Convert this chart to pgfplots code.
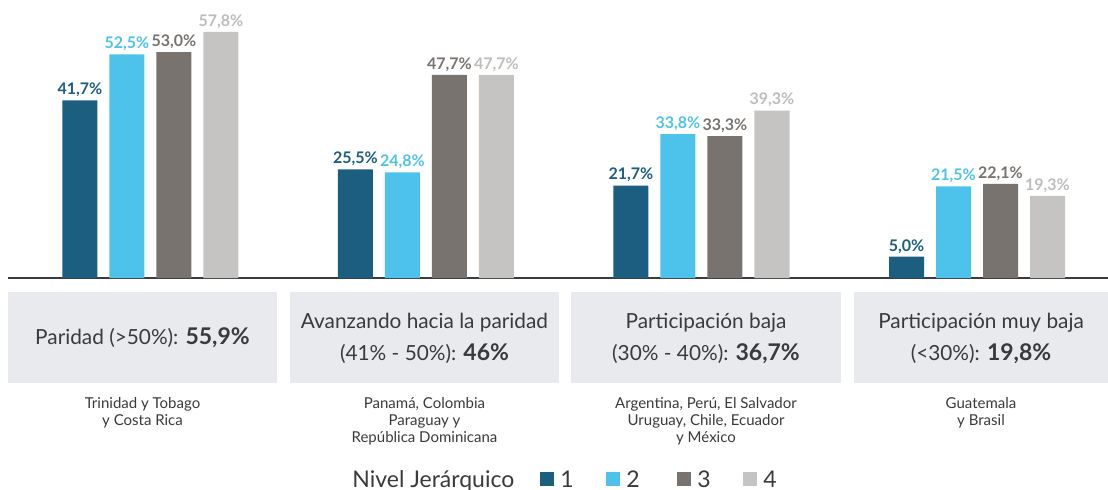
\documentclass[border=0pt]{standalone}
\usepackage{pgfplots}
\pgfplotsset{compat=1.18}
\usepackage{fontspec}
\setmainfont{Lato}
\definecolor{nivA}{HTML}{1B5E7F}
\definecolor{nivB}{HTML}{4DC3EB}
\definecolor{nivC}{HTML}{78736F}
\definecolor{nivD}{HTML}{C5C4C2}
\definecolor{boxgray}{HTML}{E8EAEE}
\definecolor{txtgray}{HTML}{3A3A3A}
\definecolor{axisgray}{HTML}{3C3C3C}
\begin{document}
\begin{tikzpicture}
\begin{axis}[
    scale only axis, width=550pt, height=127.8pt,
    xmin=-0.5172, xmax=3.4755, ymin=0, ymax=60,
    axis x line=bottom, axis y line=none,
    x axis line style={-, color=axisgray, line width=0.75pt},
    xtick=\empty, ytick=\empty,
    ybar, bar width=17.5pt, clip=false,
    nodes near coords={\pgfmathprintnumber[fixed, fixed zerofill, precision=1, use comma, assume math mode=true]{\pgfplotspointmeta}\%},
    every node near coord/.append style={font=\bfseries\fontsize{8}{9}\selectfont, inner sep=1.5pt},
]
\addplot[fill=nivA, draw=none, bar shift=-35.25pt, every node near coord/.append style={text=nivA}]
    coordinates {(0,41.7) (1,25.5) (2,21.7) (3,5.0)};
\addplot[fill=nivB, draw=none, bar shift=-11.75pt, every node near coord/.append style={text=nivB}]
    coordinates {(0,52.5) (1,24.8) (2,33.8) (3,21.5)};
\addplot[fill=nivC, draw=none, bar shift=11.75pt, every node near coord/.append style={text=nivC}]
    coordinates {(0,53.0) (1,47.7) (2,33.3) (3,22.1)};
\addplot[fill=nivD, draw=none, bar shift=35.25pt, every node near coord/.append style={text=nivD!90!gray}]
    coordinates {(0,57.8) (1,47.7) (2,39.3) (3,19.3)};
\end{axis}
% annotations in pixel units of the reference
\begin{scope}[x=0.5pt, y=-0.5pt, shift={(-4pt,139pt)}]
  \fill[boxgray] (8,292) rectangle (277,383);
  \fill[boxgray] (290,292) rectangle (559,383);
  \fill[boxgray] (571,292) rectangle (841,383);
  \fill[boxgray] (854,292) rectangle (1108,383);
  \begin{scope}[every node/.style={align=center, text=txtgray, font=\fontsize{10.4}{16}\selectfont}]
    \node at (142.5,338) {Paridad (>50\%): {\fontsize{11.5}{16}\selectfont\textbf{55,9\%}}};
    \node at (424.5,338) {Avanzando hacia la paridad\\(41\% - 50\%): {\fontsize{11.5}{16}\selectfont\textbf{46\%}}};
    \node at (706,338) {Participación baja\\(30\% - 40\%): {\fontsize{11.5}{16}\selectfont\textbf{36,7\%}}};
    \node at (981,338) {Participación muy baja\\(<30\%): {\fontsize{11.5}{16}\selectfont\textbf{19,8\%}}};
  \end{scope}
  \begin{scope}[every node/.style={align=center, anchor=north, inner sep=0pt, text=txtgray, font=\fontsize{7.5}{8.6}\selectfont}]
    \node at (142.5,397) {Trinidad y Tobago\\y Costa Rica};
    \node at (424.5,397) {Panamá, Colombia\\Paraguay y\\República Dominicana};
    \node at (706,397) {Argentina, Perú, El Salvador\\Uruguay, Chile, Ecuador\\y México};
    \node at (981,397) {Guatemala\\y Brasil};
  \end{scope}
  \begin{scope}[every node/.style={anchor=base west, inner sep=0pt, text=txtgray, font=\fontsize{11.5}{13}\selectfont}]
    \node at (352,487) {Nivel Jerárquico};
    \fill[nivA] (540,472) rectangle (554,486); \node at (560,487) {1};
    \fill[nivB] (606,472) rectangle (620,486); \node at (626,487) {2};
    \fill[nivC] (677,472) rectangle (691,486); \node at (697,487) {3};
    \fill[nivD] (743,472) rectangle (757,486); \node at (763,487) {4};
  \end{scope}
  \pgfresetboundingbox
  \path[use as bounding box] (0,0) rectangle (1108,489);
\end{scope}
\end{tikzpicture}
\end{document}
